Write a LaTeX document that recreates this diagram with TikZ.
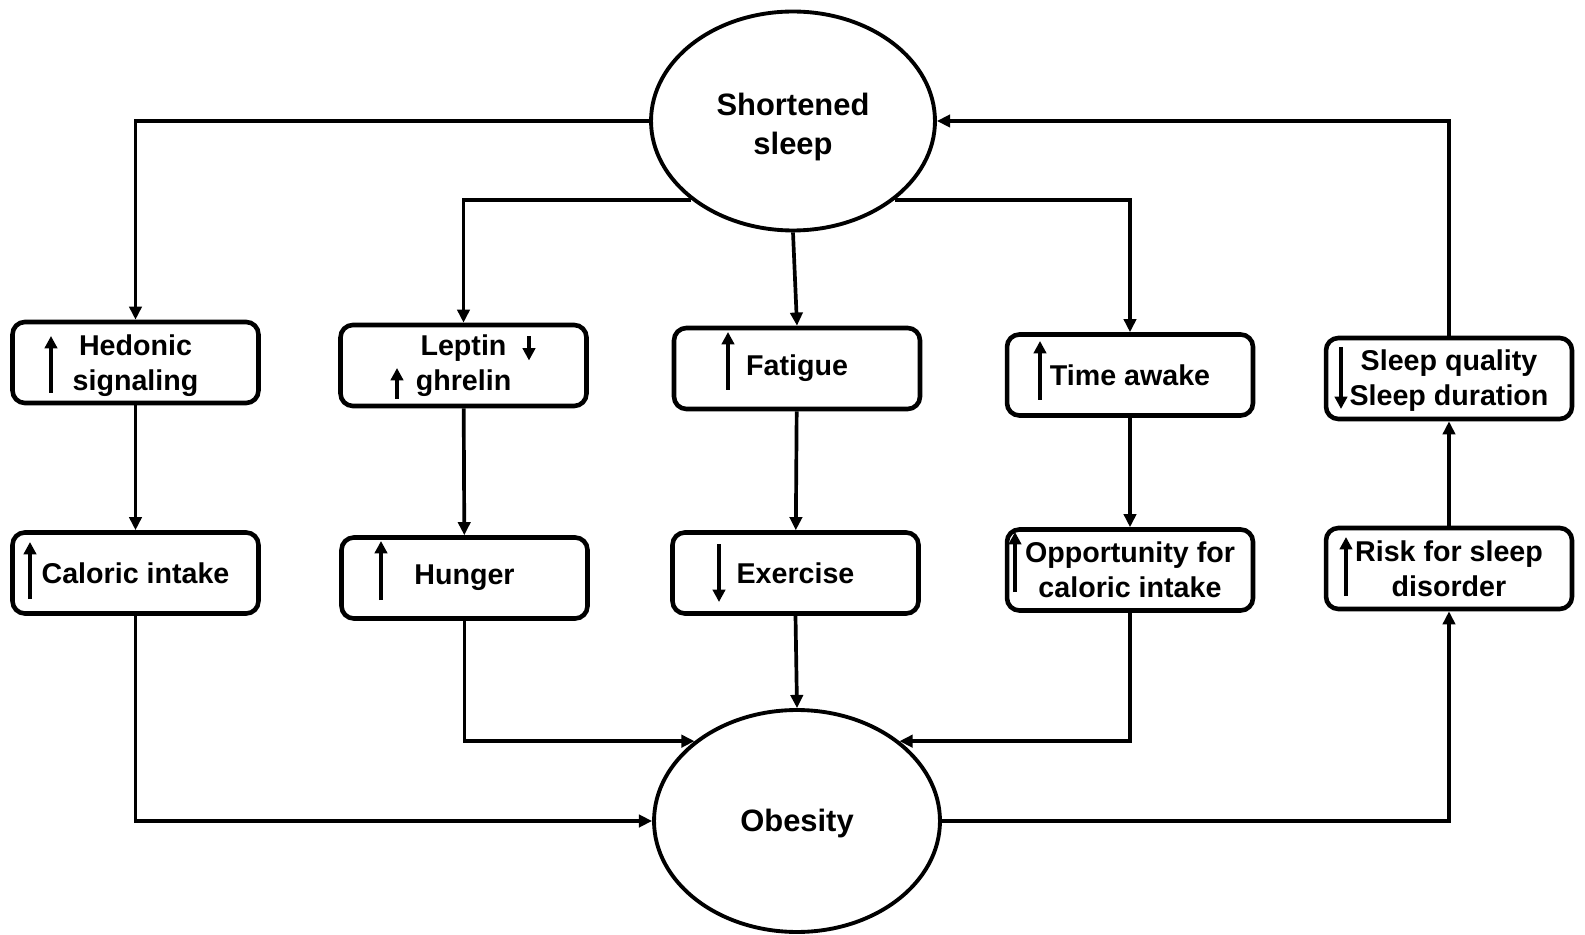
\documentclass[tikz,border=0pt]{standalone}
\usepackage{fontspec}
\setmainfont{Liberation Sans}
\usetikzlibrary{arrows.meta, shapes.geometric}

\begin{document}
\begin{tikzpicture}[
    x=0.02cm, y=-0.02cm,
    box/.style={
        rectangle, draw=black, line width=2.6pt, rounded corners=7pt,
        minimum width=4.92cm, minimum height=1.62cm, fill=white,
        inner sep=0pt, align=center,
        font=\fontsize{16.3}{19.9}\selectfont\bfseries
    },
    oval/.style={
        ellipse, draw=black, line width=2.2pt, fill=white,
        inner sep=0pt, align=center,
        font=\fontsize{17.6}{21.9}\selectfont\bfseries
    },
    arrow/.style={-{Triangle[length=7.5pt, width=7pt]}, line width=2.1pt},
    sym/.style={-{Triangle[length=7pt, width=7pt]}, line width=2.2pt}
]
    \fill[white] (0,0) rectangle (1585,935);
    \useasboundingbox (0,0) rectangle (1585,935);

    \node[oval, minimum width=5.68cm, minimum height=4.38cm] (sleep) at (793,121) {\rule{0pt}{19.6pt}Shortened\\sleep};
    \node[oval, minimum width=5.72cm, minimum height=4.44cm] (obese) at (797,821) {\rule{0pt}{16pt}Obesity};

    % first row
    \node[box] (hedonic) at (135.5,362.5) {\rule{0pt}{15pt}Hedonic\\signaling};
    \node[box] (leptin) at (463.5,365.5) {Leptin\\ghrelin};
    \node[box] (fatigue) at (797,368.5) {Fatigue};
    \node[box] (awake) at (1130,375) {Time awake};
    \node[box] (quality) at (1449,378.5) {\rule{0pt}{14pt}Sleep quality\\Sleep duration};

    % second row
    \node[box] (caloric) at (135.5,573) {Caloric intake};
    \node[box] (hunger) at (464.5,578) {Hunger};
    \node[box] (exercise) at (795.5,573) {Exercise};
    \node[box] (opportunity) at (1130,570) {Opportunity for\\caloric intake};
    \node[box] (risk) at (1449,568.5) {Risk for sleep\\disorder};

    % up / down marks
    \draw[sym] ([shift={(-84.5,30.5)}]hedonic.center) -- ++(0,-57);
    \draw[sym] ([shift={(65.5,-29)}]leptin.center) -- ++(0,24);
    \draw[sym] ([shift={(-66.5,33.5)}]leptin.center) -- ++(0,-31);
    \draw[sym] ([shift={(-69,21.5)}]fatigue.center) -- ++(0,-58);
    \draw[sym] ([shift={(-90,25)}]awake.center) -- ++(0,-59);
    \draw[sym] ([shift={(-108,-31.5)}]quality.center) -- ++(0,62);
    \draw[sym] ([shift={(-105.5,26)}]caloric.center) -- ++(0,-57);
    \draw[sym] ([shift={(-83.5,22)}]hunger.center) -- ++(0,-59);
    \draw[sym] ([shift={(-76.5,-29)}]exercise.center) -- ++(0,58);
    \draw[sym] ([shift={(-115,22)}]opportunity.center) -- ++(0,-60);
    \draw[sym] ([shift={(-103,27.5)}]risk.center) -- ++(0,-59);

    \draw[arrow] (sleep.west) -| (hedonic.north);
    \draw[arrow] (sleep.south west) -| (leptin.north);
    \draw[arrow] (sleep.south) -- (fatigue.north);
    \draw[arrow] (sleep.south east) -| (awake.north);
    \draw[arrow] (quality.north) |- (sleep.east);

    \draw[arrow] (hedonic) -- (caloric);
    \draw[arrow] (leptin) -- (hunger);
    \draw[arrow] (fatigue) -- (exercise);
    \draw[arrow] (awake) -- (opportunity);
    \draw[arrow] (risk) -- (quality);

    \draw[arrow] (caloric.south) |- (obese.west);
    \draw[arrow] (hunger.south) |- (obese.north west);
    \draw[arrow] (exercise.south) -- (obese.north);
    \draw[arrow] (opportunity.south) |- (obese.north east);
    \draw[arrow] (obese.east) -| (risk.south);
\end{tikzpicture}
\end{document}
